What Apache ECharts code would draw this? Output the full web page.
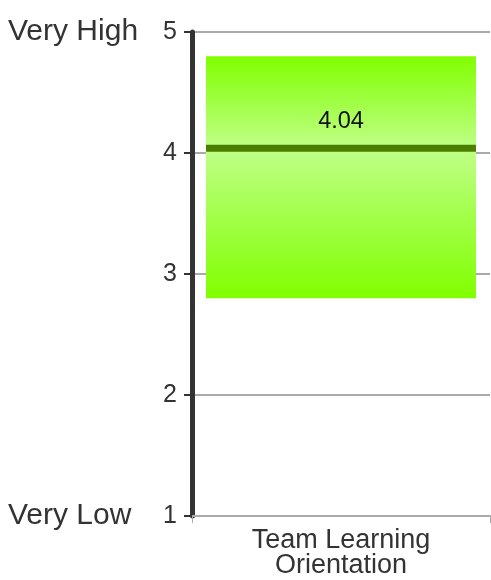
<!DOCTYPE html>
<html><head><meta charset="utf-8">
<script src="https://cdn.jsdelivr.net/npm/echarts@6/dist/echarts.min.js"></script>
<style>html,body{margin:0;padding:0;background:#fff}#c{width:491px;height:580px}</style>
</head><body><div id="c"></div>
<script>
var categories = ['Team Learning\nOrientation'];
var rangeLow = [2.8];
var rangeHigh = [4.8];
var meanValues = [4.04];
var yTicks = [1, 2, 3, 4, 5];
var yEndLabels = {1: 'Very Low', 5: 'Very High'};

var FONT = '"Liberation Sans", Arial, sans-serif';
var chart = echarts.init(document.getElementById('c'));
var meanFrac = (rangeHigh[0] - meanValues[0]) / (rangeHigh[0] - rangeLow[0]);

chart.setOption({
  animation: false,
  grid: {left: 192, right: 1, top: 32, bottom: 64},
  xAxis: {
    type: 'category', data: categories, boundaryGap: true,
    axisLine: {show: true, lineStyle: {color: '#aaaaaa', width: 2}},
    axisTick: {show: true, length: 7, lineStyle: {color: '#aaaaaa', width: 1}},
    axisLabel: {color: '#333', fontFamily: FONT, fontSize: 27, lineHeight: 25, margin: 12},
    splitLine: {show: false}
  },
  yAxis: [{
    type: 'value', min: yTicks[0], max: yTicks[yTicks.length - 1], interval: 1,
    axisLine: {show: true, onZero: false, lineStyle: {color: '#333', width: 5}},
    axisTick: {show: true, length: 8, lineStyle: {color: '#333', width: 2}},
    axisLabel: {color: '#333', fontFamily: FONT, fontSize: 25, margin: 15},
    splitLine: {show: true, lineStyle: {color: '#aaaaaa', width: 2}}
  }, {
    type: 'value', min: yTicks[0], max: yTicks[yTicks.length - 1], interval: 1,
    position: 'left',
    axisLine: {show: false}, axisTick: {show: false}, splitLine: {show: false},
    axisLabel: {
      color: '#333', fontFamily: FONT, fontSize: 30, margin: 184, align: 'left',
      padding: [0, 0, 20, 0],
      formatter: function (v) { return yEndLabels[v] || ''; }
    }
  }],
  series: [{
    type: 'bar', stack: 'r', data: rangeLow, barWidth: '90.6%',
    itemStyle: {color: 'rgba(0,0,0,0)'}, silent: true
  }, {
    type: 'bar', stack: 'r', barWidth: '90.6%',
    data: rangeHigh.map(function (h, i) { return h - rangeLow[i]; }),
    itemStyle: {
      color: {type: 'linear', x: 0, y: 0, x2: 0, y2: 1, colorStops: [
        {offset: 0, color: '#80ff00'},
        {offset: meanFrac, color: '#c0ff88'},
        {offset: 1, color: '#80ff00'}
      ]}
    }
  }, {
    type: 'custom',
    data: meanValues.map(function (m, i) { return [i, m]; }),
    renderItem: function (params, api) {
      var p = api.coord([api.value(0), api.value(1)]);
      var w = api.size([1, 0])[0] * 0.906;
      return {
        type: 'group',
        children: [{
          type: 'line',
          shape: {x1: p[0] - w / 2, y1: p[1], x2: p[0] + w / 2, y2: p[1]},
          style: {stroke: '#4a7f00', lineWidth: 7}
        }, {
          type: 'text',
          style: {
            text: api.value(1).toFixed(2), x: p[0], y: p[1] - 27,
            fill: '#111', font: '23.5px ' + FONT, align: 'center', verticalAlign: 'middle'
          }
        }]
      };
    },
    z: 5
  }]
});
</script></body></html>
